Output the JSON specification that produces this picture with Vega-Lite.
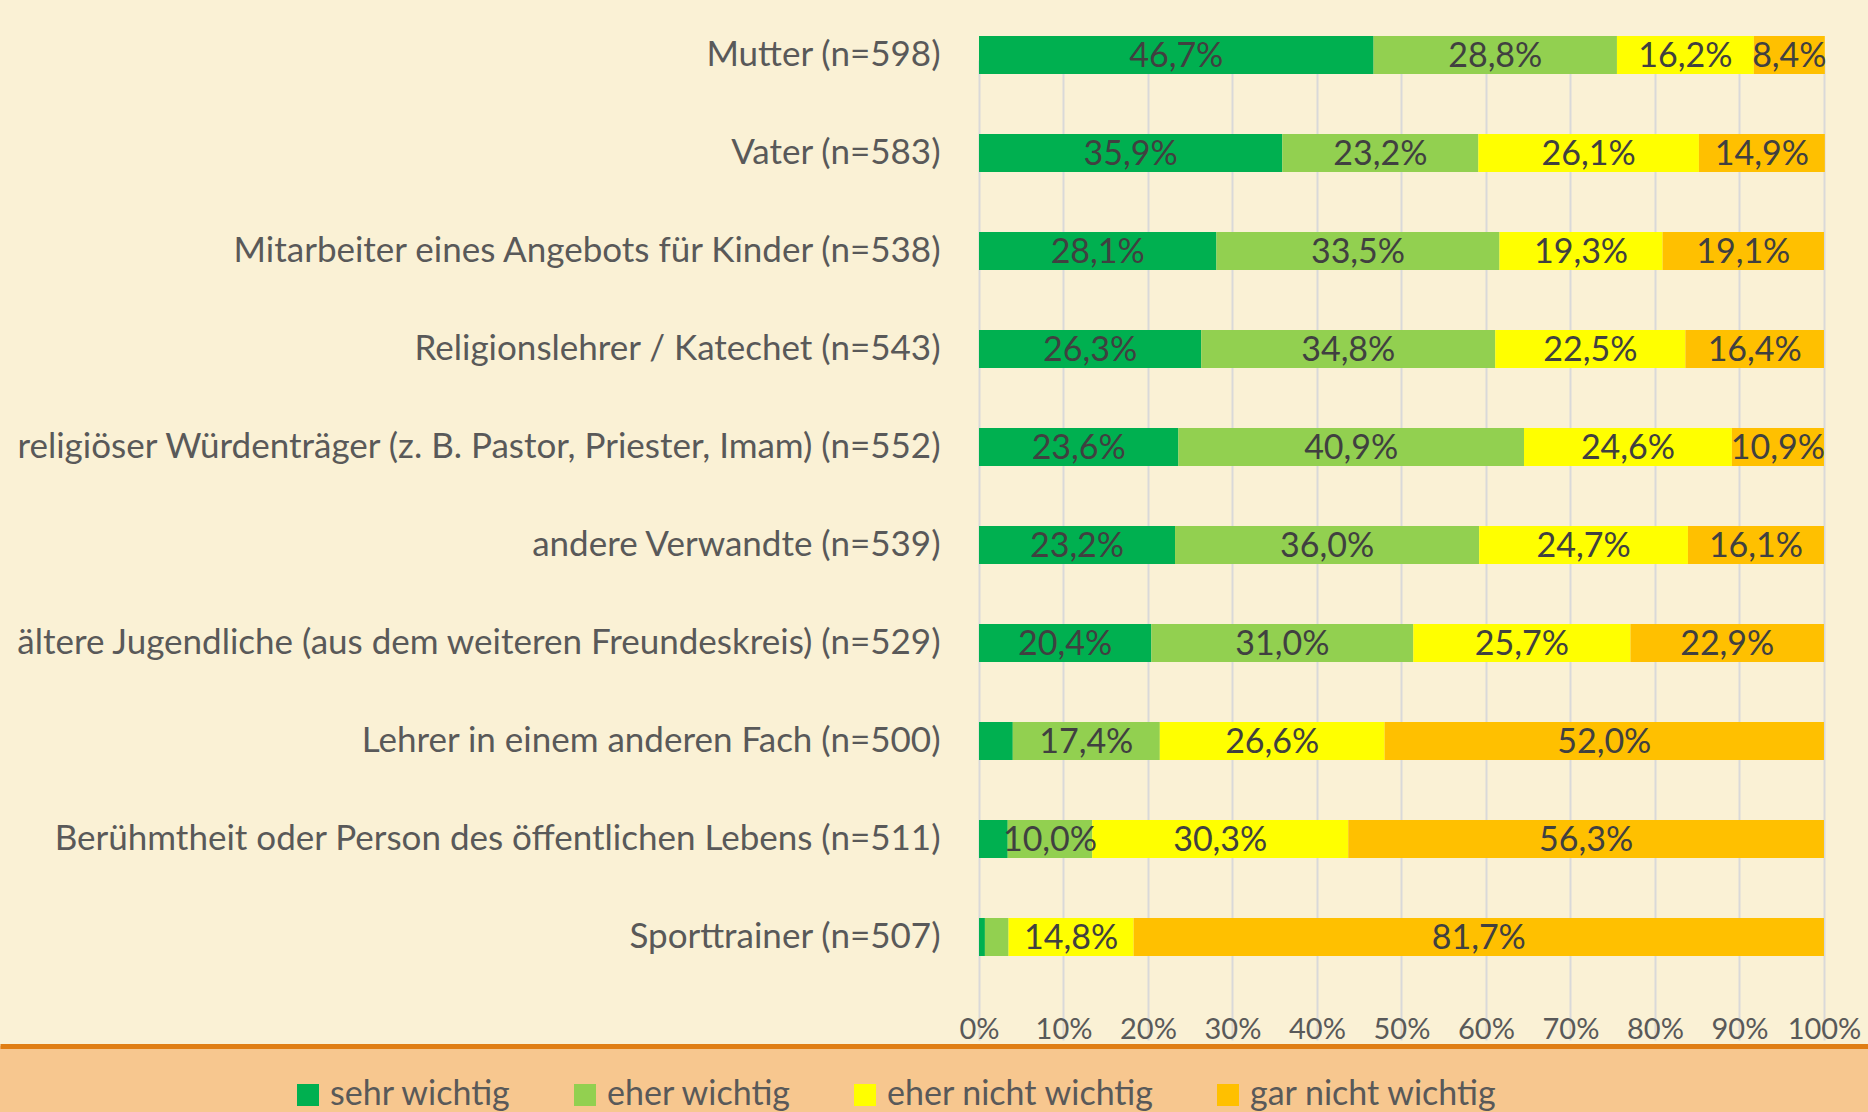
{
  "$schema": "https://vega.github.io/schema/vega-lite/v6.json",
  "width": 1868,
  "height": 1046,
  "padding": {"left": 0, "top": 0, "right": 0, "bottom": 66},
  "autosize": {"type": "none"},
  "background": "#F7C78F",
  "datasets": {
    "rows": [
      {"p": "Mutter (n=598)", "c": "sehr wichtig", "k": 1, "v": 0.467},
      {"p": "Mutter (n=598)", "c": "eher wichtig", "k": 2, "v": 0.288},
      {"p": "Mutter (n=598)", "c": "eher nicht wichtig", "k": 3, "v": 0.162},
      {"p": "Mutter (n=598)", "c": "gar nicht wichtig", "k": 4, "v": 0.084},
      {"p": "Vater (n=583)", "c": "sehr wichtig", "k": 1, "v": 0.359},
      {"p": "Vater (n=583)", "c": "eher wichtig", "k": 2, "v": 0.232},
      {"p": "Vater (n=583)", "c": "eher nicht wichtig", "k": 3, "v": 0.261},
      {"p": "Vater (n=583)", "c": "gar nicht wichtig", "k": 4, "v": 0.149},
      {"p": "Mitarbeiter eines Angebots für Kinder (n=538)", "c": "sehr wichtig", "k": 1, "v": 0.281},
      {"p": "Mitarbeiter eines Angebots für Kinder (n=538)", "c": "eher wichtig", "k": 2, "v": 0.335},
      {"p": "Mitarbeiter eines Angebots für Kinder (n=538)", "c": "eher nicht wichtig", "k": 3, "v": 0.193},
      {"p": "Mitarbeiter eines Angebots für Kinder (n=538)", "c": "gar nicht wichtig", "k": 4, "v": 0.191},
      {"p": "Religionslehrer / Katechet (n=543)", "c": "sehr wichtig", "k": 1, "v": 0.263},
      {"p": "Religionslehrer / Katechet (n=543)", "c": "eher wichtig", "k": 2, "v": 0.348},
      {"p": "Religionslehrer / Katechet (n=543)", "c": "eher nicht wichtig", "k": 3, "v": 0.225},
      {"p": "Religionslehrer / Katechet (n=543)", "c": "gar nicht wichtig", "k": 4, "v": 0.164},
      {"p": "religiöser Würdenträger (z. B. Pastor, Priester, Imam) (n=552)", "c": "sehr wichtig", "k": 1, "v": 0.236},
      {"p": "religiöser Würdenträger (z. B. Pastor, Priester, Imam) (n=552)", "c": "eher wichtig", "k": 2, "v": 0.409},
      {"p": "religiöser Würdenträger (z. B. Pastor, Priester, Imam) (n=552)", "c": "eher nicht wichtig", "k": 3, "v": 0.246},
      {"p": "religiöser Würdenträger (z. B. Pastor, Priester, Imam) (n=552)", "c": "gar nicht wichtig", "k": 4, "v": 0.109},
      {"p": "andere Verwandte (n=539)", "c": "sehr wichtig", "k": 1, "v": 0.232},
      {"p": "andere Verwandte (n=539)", "c": "eher wichtig", "k": 2, "v": 0.360},
      {"p": "andere Verwandte (n=539)", "c": "eher nicht wichtig", "k": 3, "v": 0.247},
      {"p": "andere Verwandte (n=539)", "c": "gar nicht wichtig", "k": 4, "v": 0.161},
      {"p": "ältere Jugendliche (aus dem weiteren Freundeskreis) (n=529)", "c": "sehr wichtig", "k": 1, "v": 0.204},
      {"p": "ältere Jugendliche (aus dem weiteren Freundeskreis) (n=529)", "c": "eher wichtig", "k": 2, "v": 0.310},
      {"p": "ältere Jugendliche (aus dem weiteren Freundeskreis) (n=529)", "c": "eher nicht wichtig", "k": 3, "v": 0.257},
      {"p": "ältere Jugendliche (aus dem weiteren Freundeskreis) (n=529)", "c": "gar nicht wichtig", "k": 4, "v": 0.229},
      {"p": "Lehrer in einem anderen Fach (n=500)", "c": "sehr wichtig", "k": 1, "v": 0.040},
      {"p": "Lehrer in einem anderen Fach (n=500)", "c": "eher wichtig", "k": 2, "v": 0.174},
      {"p": "Lehrer in einem anderen Fach (n=500)", "c": "eher nicht wichtig", "k": 3, "v": 0.266},
      {"p": "Lehrer in einem anderen Fach (n=500)", "c": "gar nicht wichtig", "k": 4, "v": 0.520},
      {"p": "Berühmtheit oder Person des öffentlichen Lebens (n=511)", "c": "sehr wichtig", "k": 1, "v": 0.034},
      {"p": "Berühmtheit oder Person des öffentlichen Lebens (n=511)", "c": "eher wichtig", "k": 2, "v": 0.100},
      {"p": "Berühmtheit oder Person des öffentlichen Lebens (n=511)", "c": "eher nicht wichtig", "k": 3, "v": 0.303},
      {"p": "Berühmtheit oder Person des öffentlichen Lebens (n=511)", "c": "gar nicht wichtig", "k": 4, "v": 0.563},
      {"p": "Sporttrainer (n=507)", "c": "sehr wichtig", "k": 1, "v": 0.007},
      {"p": "Sporttrainer (n=507)", "c": "eher wichtig", "k": 2, "v": 0.028},
      {"p": "Sporttrainer (n=507)", "c": "eher nicht wichtig", "k": 3, "v": 0.148},
      {"p": "Sporttrainer (n=507)", "c": "gar nicht wichtig", "k": 4, "v": 0.817}
    ]
  },
  "data": {"name": "rows"},
  "encoding": {
    "y": {
      "field": "p",
      "type": "nominal",
      "sort": null,
      "scale": {"range": [6, 986], "paddingInner": 0.612, "paddingOuter": 0.306},
      "axis": {
        "title": null,
        "domain": false,
        "ticks": false,
        "tickSize": 0,
        "grid": false,
        "offset": -950,
        "labelPadding": 10,
        "labelFont": "Lato",
        "labelFontSize": 35,
        "labelColor": "#595959",
        "labelLimit": 2000
      }
    }
  },
  "layer": [
    {
      "mark": {"type": "bar"},
      "encoding": {
        "x": {
          "field": "v",
          "type": "quantitative",
          "stack": "zero",
          "scale": {"domain": [-1.1586, 1.0521], "nice": false, "zero": false},
          "axis": {
            "title": null,
            "values": [0, 0.1, 0.2, 0.3, 0.4, 0.5, 0.6, 0.7, 0.8, 0.9, 1],
            "format": ".0%",
            "grid": true,
            "gridColor": "#D9D9D9",
            "gridWidth": 2,
            "domain": true,
            "domainColor": "#E07E14",
            "domainWidth": 5,
            "ticks": false,
            "tickSize": 0,
            "labelPadding": -17,
            "labelBaseline": "middle",
            "labelFont": "Lato",
            "labelFontSize": 29,
            "labelColor": "#595959",
            "labelOverlap": false,
            "labelFlush": false
          }
        },
        "color": {
          "field": "c",
          "type": "nominal",
          "scale": {
            "domain": ["sehr wichtig", "eher wichtig", "eher nicht wichtig", "gar nicht wichtig"],
            "range": ["#00B050", "#92D050", "#FFFF00", "#FFC000"]
          },
          "legend": {
            "orient": "none",
            "legendX": 291,
            "legendY": 1078,
            "direction": "horizontal",
            "title": null,
            "symbolType": "square",
            "symbolSize": 484,
            "symbolStrokeWidth": 0,
            "labelFont": "Lato",
            "labelFontSize": 34,
            "labelColor": "#595959",
            "labelOffset": 5,
            "columnPadding": 56,
            "labelLimit": 1000
          }
        },
        "order": {"field": "k", "type": "quantitative"}
      }
    },
    {
      "mark": {"type": "text", "font": "Lato", "fontSize": 34, "color": "#404040", "baseline": "middle", "align": "center", "dy": 2},
      "encoding": {
        "x": {"field": "v", "type": "quantitative", "stack": "zero", "bandPosition": 0.5},
        "detail": {"field": "c"},
        "order": {"field": "k", "type": "quantitative"},
        "text": {
          "condition": {"test": "datum.v < 0.05", "value": ""},
          "field": "v",
          "type": "quantitative",
          "format": ".1%"
        }
      }
    }
  ],
  "config": {
    "view": {"fill": "#FAF1D5", "stroke": null},
    "locale": {"number": {"decimal": ",", "thousands": ".", "grouping": [3], "currency": ["", " €"]}}
  }
}
